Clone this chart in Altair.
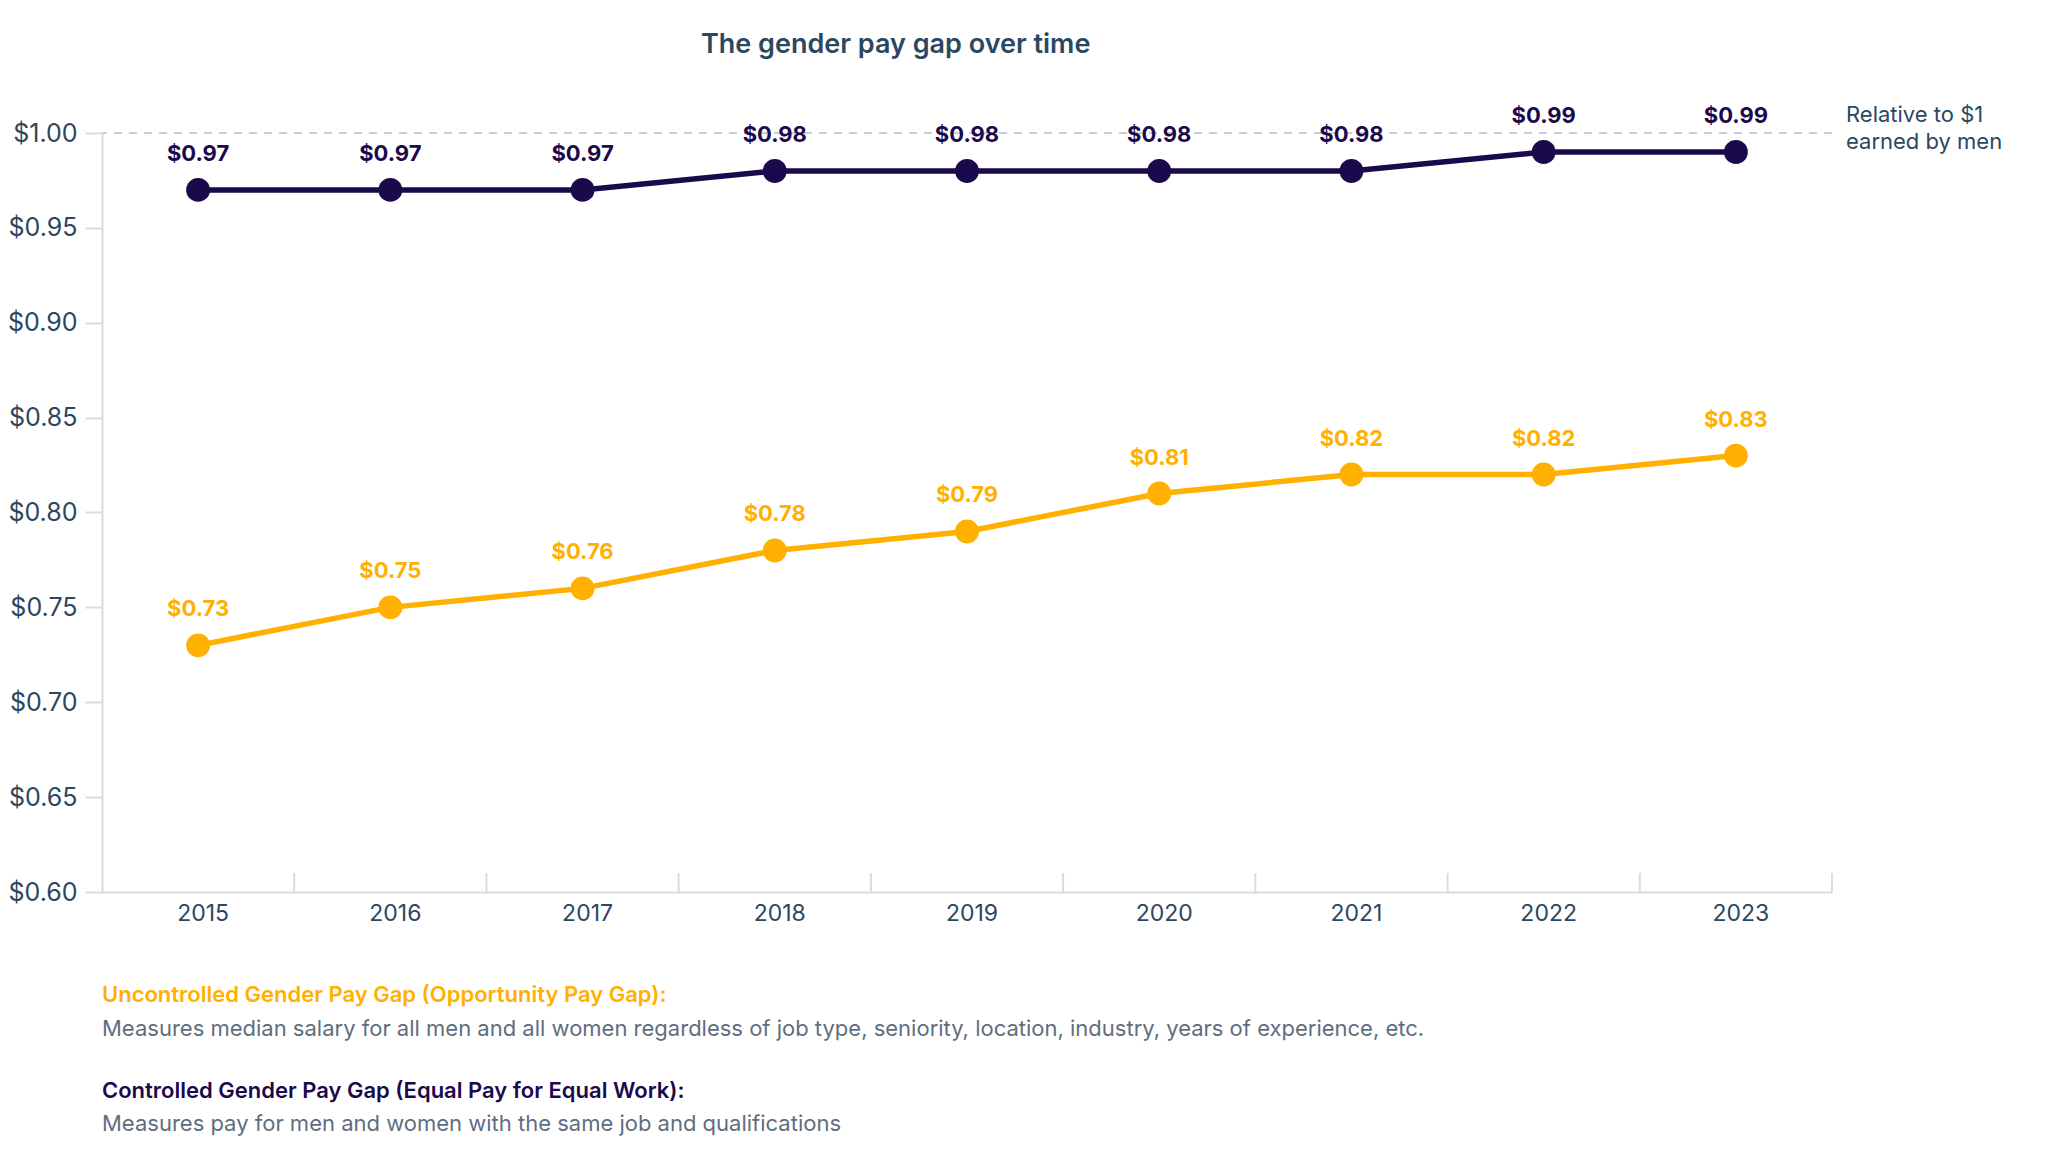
import altair as alt
import pandas as pd

years = ["2015", "2016", "2017", "2018", "2019", "2020", "2021", "2022", "2023"]
controlled = [0.97, 0.97, 0.97, 0.98, 0.98, 0.98, 0.98, 0.99, 0.99]
uncontrolled = [0.73, 0.75, 0.76, 0.78, 0.79, 0.81, 0.82, 0.82, 0.83]
series_names = ["Uncontrolled", "Controlled"]
series_colors = ["#FFB000", "#1B0A4B"]
y_ticks = [0.60, 0.65, 0.70, 0.75, 0.80, 0.85, 0.90, 0.95, 1.00]
y_min, y_max = 0.60, 1.00
reference_value = 1.00
tick_len = 0.01

title_text = "The gender pay gap over time"
annotation_lines = ["Relative to $1", "earned by men"]
note_texts = [
    "Uncontrolled Gender Pay Gap (Opportunity Pay Gap):",
    "Measures median salary for all men and all women regardless of job type, seniority, location, industry, years of experience, etc.",
    "Controlled Gender Pay Gap (Equal Pay for Equal Work):",
    "Measures pay for men and women with the same job and qualifications",
]

FONT = "Inter"
AXIS_COLOR = "#2C4760"
GRID_GRAY = "#D8DDE3"
BODY_GRAY = "#5F6E7E"

rows = []
for y, v in zip(years, uncontrolled):
    rows.append({"year": y, "value": v, "series": "Uncontrolled"})
for y, v in zip(years, controlled):
    rows.append({"year": y, "value": v, "series": "Controlled"})
df = pd.DataFrame(rows)

xscale = alt.Scale(type="band", paddingInner=0, paddingOuter=0, domain=years)
yscale = alt.Scale(domain=[y_min, y_max], zero=False, nice=False)
cscale = alt.Scale(domain=series_names, range=series_colors)

x_enc = alt.X(
    "year:O",
    scale=xscale,
    title=None,
    axis=alt.Axis(
        labelAngle=0, labelAlign="center", labelOffset=5, ticks=False, grid=False,
        domainColor=GRID_GRAY, domainWidth=2,
        labelColor=AXIS_COLOR, labelFontSize=23, labelFont=FONT, labelPadding=21,
    ),
)
y_enc = alt.Y(
    "value:Q",
    scale=yscale,
    title=None,
    axis=alt.Axis(
        values=y_ticks, format="$.2f", grid=False, domainColor=GRID_GRAY, domainWidth=2,
        tickColor=GRID_GRAY, tickSize=17, tickWidth=2, labelColor=AXIS_COLOR,
        labelFontSize=25, labelFont=FONT, labelPadding=8,
    ),
)
color_enc = alt.Color("series:N", scale=cscale, legend=None)

base = alt.Chart(df)

lines = base.mark_line(strokeWidth=5.5).encode(x=x_enc, y=y_enc, color=color_enc)
points = base.mark_circle(size=570, opacity=1).encode(x=x_enc, y=y_enc, color=color_enc)
labels = base.mark_text(
    font=FONT, fontSize=22, fontWeight="bold", baseline="middle", align="center", dy=-36
).transform_calculate(
    label="'$' + format(datum.value, '.2f')"
).encode(x=x_enc, y=y_enc, color=color_enc, text="label:N")

ref = alt.Chart(pd.DataFrame({"v": [reference_value]})).mark_rule(
    color="#B4BECB", strokeDash=[8, 7], strokeWidth=1.5
).encode(y=alt.Y("v:Q", scale=yscale))

# boundary ticks: right edge of every year band (2015..2023)
tick_df = pd.DataFrame({"year": years, "lo": [y_min] * len(years), "hi": [y_min + tick_len] * len(years)})
xticks = alt.Chart(tick_df).mark_rule(color=GRID_GRAY, strokeWidth=2).encode(
    x=alt.X("year:O", scale=xscale, bandPosition=1),
    y=alt.Y("lo:Q", scale=yscale),
    y2="hi:Q",
)

annot = alt.Chart(pd.DataFrame({"t": [0]})).mark_text(
    font=FONT, fontSize=22, align="left", baseline="top", color=AXIS_COLOR, lineHeight=27
).encode(x=alt.value(1744), y=alt.value(-28), text=alt.value(annotation_lines))

note_styles = [
    (series_colors[0], 600, 862),
    (BODY_GRAY, 400, 896),
    (series_colors[1], 600, 958),
    (BODY_GRAY, 400, 991),
]
note_layers = []
for txt, (color, weight, pos) in zip(note_texts, note_styles):
    note_layers.append(
        alt.Chart(pd.DataFrame({"text": [txt]})).mark_text(
            font=FONT, fontSize=22, align="left", baseline="middle", color=color, fontWeight=weight
        ).encode(x=alt.value(0), y=alt.value(pos), text="text:N")
    )

chart = alt.layer(ref, xticks, lines, points, labels, annot, *note_layers).properties(
    width=1730,
    height=759,
    padding={"left": 94, "top": 125, "right": 190, "bottom": 260},
    autosize=alt.AutoSizeParams(type="none"),
    background="white",
    title=alt.TitleParams(
        text=title_text, anchor="start", frame="group", dx=599, offset=45,
        font=FONT, fontSize=27, fontWeight=600, color=AXIS_COLOR,
    ),
).configure_view(stroke="transparent", strokeWidth=0)

chart.save("out.html", embed_options={"renderer": "svg", "actions": False})
